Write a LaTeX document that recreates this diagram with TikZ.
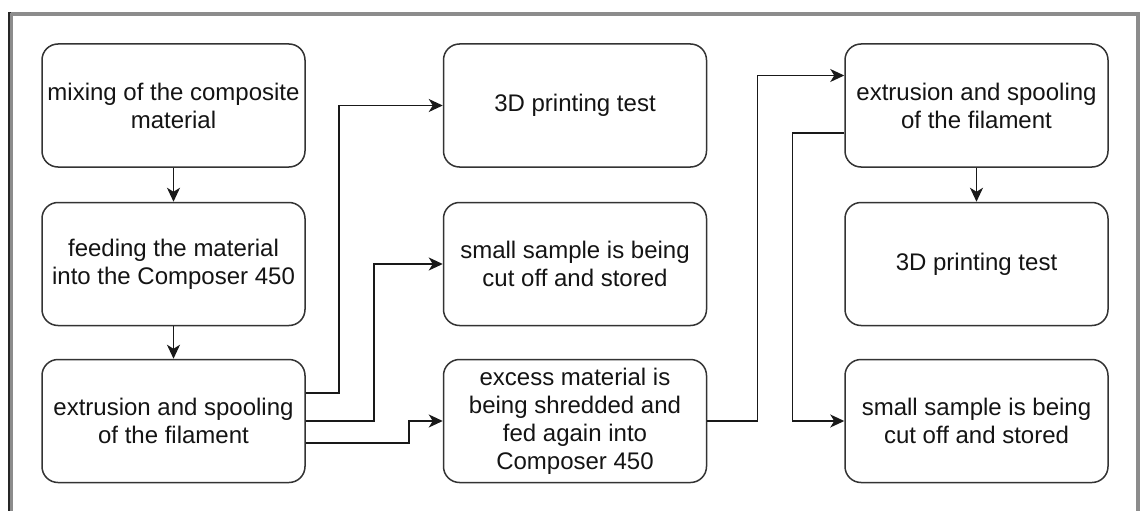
\documentclass[tikz,border=0pt]{standalone}
\usepackage{fontspec}
\setmainfont{Liberation Sans}
\usetikzlibrary{arrows.meta,calc}
\begin{document}
\begin{tikzpicture}[x=1pt,y=-1pt,
  box/.style={draw=black!80, line width=1.5pt, rounded corners=16pt,
    minimum width=263pt, minimum height=123pt, inner sep=0pt,
    align=center, text=black!92, font=\fontsize{24}{28}\selectfont},
  conn/.style={draw=black!90, line width=1.5pt, -{Stealth[length=14pt,width=13pt,inset=4pt]}},
  frame/.style={draw=black!45, line width=4pt}]
\useasboundingbox (0,0) rectangle (1141,511);
\fill[white] (0,0) rectangle (1141,511);
% outer frame
\draw[frame] (11,530) -- (11,14) -- (1138,14) -- (1138,530);
\draw[black!85, line width=1.2pt] (9,530) -- (9,12.5) -- (11,12.5);

\node[box] (a1) at (173.5,105.5) {mixing of the composite\\material};
\node[box] (a2) at (173.5,264) {feeding the material\\into the Composer 450};
\node[box] (a3) at (173.5,421) {extrusion and spooling\\of the filament};

\node[box] (b1) at (575,105.5) {3D printing test};
\node[box] (b2) at (575,264) {small sample is being\\cut off and stored};
\node[box] (b3) at (575,421) {excess material is\\being shredded and\\fed again into\\Composer 450};

\node[box] (c1) at (976.5,105.5) {extrusion and spooling\\of the filament};
\node[box] (c2) at (976.5,264) {3D printing test};
\node[box] (c3) at (976.5,421) {small sample is being\\cut off and stored};

\draw[conn] (a1.south) -- (a2.north);
\draw[conn] (a2.south) -- (a3.north);
\draw[conn] ($(a3.east)+(0,-28)$) -| ($(b1.west)+(-104,0)$) -- (b1.west);
\draw[conn] (a3.east) -| ($(b2.west)+(-69,0)$) -- (b2.west);
\draw[conn] ($(a3.east)+(0,22)$) -| ($(b3.west)+(-34,0)$) -- (b3.west);
\draw[conn] (b3.east) -| ($(c1.west)+(-87,-30)$) -- ($(c1.west)+(0,-30)$);
\draw[conn] ($(c1.west)+(0,27.5)$) -| ($(c3.west)+(-52,0)$) -- (c3.west);
\draw[conn] (c1.south) -- (c2.north);
\end{tikzpicture}
\end{document}
